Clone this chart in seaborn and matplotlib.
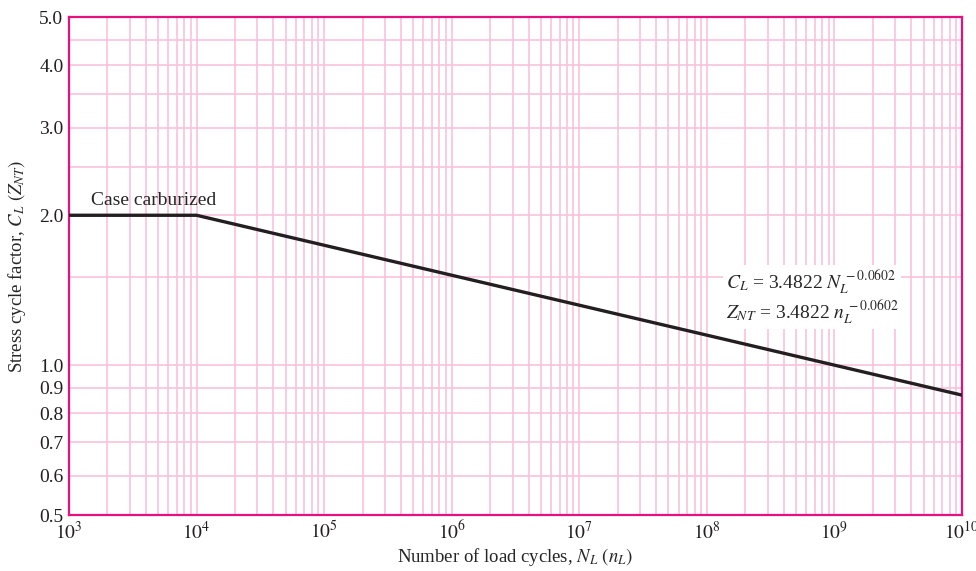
import numpy as np
import pandas as pd
import matplotlib
matplotlib.use("Agg")
import matplotlib.pyplot as plt
import matplotlib.ticker as mticker
import seaborn as sns

# points (straight segments on log-log axes)
cycles = [1e3, 1e4, 1e10]
factor = [2.0, 2.0, 0.8706]

y_labeled = [0.5, 0.6, 0.7, 0.8, 0.9, 1.0, 2.0, 3.0, 4.0, 5.0]
y_extra = [1.5, 2.5, 3.5, 4.5]
x_decades = [1e3, 1e4, 1e5, 1e6, 1e7, 1e8, 1e9, 1e10]

sns.set_style("white")
plt.rcParams['font.family'] = ['Liberation Serif', 'DejaVu Serif']
plt.rcParams['mathtext.fontset'] = 'stix'

grid_col = '#f8c2dc'
frame_col = '#e6107f'

fig = plt.figure(figsize=(9.76, 5.71), dpi=100)
ax = fig.add_axes([0.0707, 0.098, 0.915, 0.872])

df = pd.DataFrame({'N': cycles, 'C': factor})
sns.lineplot(data=df, x='N', y='C', ax=ax, color='#231f20', linewidth=2.4, zorder=3)

ax.set_xscale('log')
ax.set_yscale('log')
ax.set_xlim(1e3, 1e10)
ax.set_ylim(0.5, 5.0)

ax.xaxis.set_major_locator(mticker.FixedLocator(x_decades))
ax.xaxis.set_minor_locator(mticker.LogLocator(base=10, subs=np.arange(2, 10), numticks=100))
ax.xaxis.set_major_formatter(mticker.FuncFormatter(lambda v, p: r'$10^{%d}$' % round(np.log10(v))))
ax.xaxis.set_minor_formatter(mticker.NullFormatter())

ax.yaxis.set_major_locator(mticker.FixedLocator(y_labeled))
ax.yaxis.set_minor_locator(mticker.FixedLocator(y_extra))
ax.yaxis.set_major_formatter(mticker.FuncFormatter(lambda v, p: '%.1f' % v))
ax.yaxis.set_minor_formatter(mticker.NullFormatter())

ax.grid(True, which='both', color=grid_col, linewidth=1.2)
ax.tick_params(which='both', length=0, labelsize=14, colors='#231f20', pad=4)

for s in ax.spines.values():
    s.set_visible(True)
    s.set_color(frame_col)
    s.set_linewidth(1.6)

ax.set_xlabel(r'Number of load cycles, $N_L\ (n_L)$', fontsize=13.5, labelpad=2)
ax.set_ylabel(r'Stress cycle factor, $C_L\ (Z_{NT})$', fontsize=13.5, labelpad=8)

ax.text(1.5e3, 2.06, 'Case carburized', fontsize=14, va='bottom', ha='left', zorder=4)
ax.text(1.4e8, 1.37,
        '$C_L$ = 3.4822 $N_L^{\\,-0.0602}$\n$Z_{NT}$ = 3.4822 $n_L^{\\,-0.0602}$',
        fontsize=14, va='center', ha='left', linespacing=1.15, zorder=4,
        bbox=dict(facecolor='white', edgecolor='none', pad=2))

plt.savefig('out.png', dpi=100)
plt.close()
